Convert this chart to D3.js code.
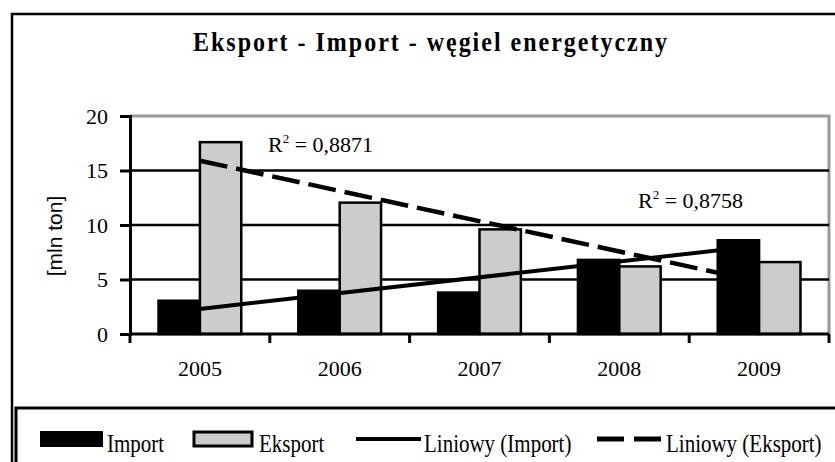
<!DOCTYPE html>
<html>
<head>
<meta charset="utf-8">
<script src="https://cdn.jsdelivr.net/npm/d3@7"></script>
<style>
  body { margin: 0; background: white; }
</style>
</head>
<body>
<script>
const FONT_SERIF = '"Liberation Serif", "Times New Roman", serif'
const FONT_SANS = '"Liberation Sans", Arial, sans-serif'
const GRAY_BAR = '#cccccc'
const GRAY_BORDER = '#999999'

// data
const years = ['2005', '2006', '2007', '2008', '2009']
const importVals = [3.05, 3.97, 3.8, 6.8, 8.6]
const exportVals = [17.6, 12.05, 9.6, 6.2, 6.6]
const yTicks = [0, 5, 10, 15, 20]
// trend lines (first and last category)
const importTrend = [2.3, 8.1]
const exportTrend = [15.9, 4.8]
const r2Labels = ['0,8871', '0,8758']

const width = 835, height = 462

const svg = d3.select('body').append('svg')
    .attr('width', width).attr('height', height)

// outer frame
svg.append('rect').attr('x', 12).attr('y', 14).attr('width', 900).attr('height', 600)
    .attr('fill', 'white').attr('stroke', 'black').attr('stroke-width', 2.5)

//Titre (text in the original looks stretched vertically)
svg.append('text').text('Eksport - Import - węgiel energetyczny')
    .attr('transform', 'translate(430,51) scale(1,1.18)').attr('text-anchor', 'middle')
    .attr('font-family', FONT_SERIF).attr('font-weight', 'bold').attr('font-size', 24)
    .attr('textLength', 474).attr('lengthAdjust', 'spacing')

//scales
const plot = { left: 130, right: 829, top: 116, bottom: 334 }
const x = d3.scaleBand().domain(years).range([plot.left, plot.right]).padding(0)
const xSub = d3.scaleBand().domain(['import', 'export']).range([0, x.bandwidth()])
    .paddingInner(0).paddingOuter(0.69)
const y = d3.scaleLinear().domain([0, 20]).range([plot.bottom, plot.top])

// plot border (top + right, gray)
svg.append('path')
    .attr('d', `M${plot.left},${y(20)}H${plot.right}V${plot.bottom}`)
    .attr('fill', 'none').attr('stroke', GRAY_BORDER).attr('stroke-width', 3)

// gridlines
svg.append('g').selectAll('line').data(yTicks.filter(d => d > 0 && d < 20)).join('line')
    .attr('x1', plot.left).attr('x2', plot.right)
    .attr('y1', d => y(d)).attr('y2', d => y(d))
    .attr('stroke', 'black').attr('stroke-width', 2.5)

// bars
const groups = svg.append('g').selectAll('g').data(years).join('g')
    .attr('transform', d => `translate(${x(d)},0)`)
groups.append('rect')
    .attr('x', xSub('import')).attr('width', xSub.bandwidth())
    .attr('y', (d, i) => y(importVals[i])).attr('height', (d, i) => y(0) - y(importVals[i]))
    .attr('fill', 'black').attr('stroke', 'black').attr('stroke-width', 2.5)
groups.append('rect')
    .attr('x', xSub('export')).attr('width', xSub.bandwidth())
    .attr('y', (d, i) => y(exportVals[i])).attr('height', (d, i) => y(0) - y(exportVals[i]))
    .attr('fill', GRAY_BAR).attr('stroke', 'black').attr('stroke-width', 2.5)

// trend lines
const cx = d => x(d) + x.bandwidth() / 2
const ends = [years[0], years[years.length - 1]]
const line = d3.line().x(d => cx(d[0])).y(d => y(d[1]))
svg.append('path').datum(ends.map((d, i) => [d, importTrend[i]]))
    .attr('d', line).attr('fill', 'none').attr('stroke', 'black').attr('stroke-width', 4)
svg.append('path').datum(ends.map((d, i) => [d, exportTrend[i]]))
    .attr('d', line).attr('fill', 'none').attr('stroke', 'black').attr('stroke-width', 4.5)
    .attr('stroke-dasharray', '28 9')

// y axis
const yAxis = svg.append('g').attr('transform', `translate(${plot.left},0)`)
    .call(d3.axisLeft(y).tickValues(yTicks).tickSize(10).tickPadding(12).tickFormat(d3.format('d')))
yAxis.select('.domain').attr('stroke-width', 3)
yAxis.selectAll('.tick line').attr('stroke-width', 3)
yAxis.selectAll('text').attr('font-family', FONT_SERIF).attr('font-size', 22).attr('fill', 'black')

// x axis
const xAxis = svg.append('g').attr('transform', `translate(0,${plot.bottom})`)
    .call(d3.axisBottom(x).tickSize(0).tickPadding(26))
xAxis.select('.domain').attr('stroke-width', 3).attr('d', `M${plot.left},0H${plot.right}`)
xAxis.selectAll('text').attr('font-family', FONT_SERIF).attr('font-size', 22).attr('fill', 'black')
svg.append('g').selectAll('line').data(years.slice(1).concat(['end'])).join('line')
    .attr('x1', d => d === 'end' ? plot.right : x(d)).attr('x2', d => d === 'end' ? plot.right : x(d))
    .attr('y1', plot.bottom).attr('y2', plot.bottom + 9)
    .attr('stroke', 'black').attr('stroke-width', 3)
svg.append('line').attr('x1', plot.left).attr('x2', plot.left)
    .attr('y1', plot.bottom).attr('y2', plot.bottom + 9)
    .attr('stroke', 'black').attr('stroke-width', 3)

// axis title
svg.append('text').text('[mln ton]')
    .attr('transform', 'translate(62,236) rotate(-90)').attr('text-anchor', 'middle')
    .attr('font-family', FONT_SANS).attr('font-size', 21)

// R² labels
const r2Pos = [[268, 152], [638, 208]]
r2Labels.forEach((v, i) => {
    const t = svg.append('text').attr('x', r2Pos[i][0]).attr('y', r2Pos[i][1])
        .attr('font-family', FONT_SERIF).attr('font-size', 22)
    t.append('tspan').text('R')
    t.append('tspan').text('2').attr('font-size', 13).attr('dy', -9)
    t.append('tspan').text(' = ' + v).attr('dy', 9)
})

// legend box
svg.append('rect').attr('x', 16).attr('y', 408).attr('width', 900).attr('height', 100)
    .attr('fill', 'white').attr('stroke', 'black').attr('stroke-width', 3)
const lg = svg.append('g').attr('font-family', FONT_SERIF).attr('font-size', 21)
const legendText = (s, x0) => lg.append('text').text(s)
    .attr('transform', `translate(${x0},452) scale(1,1.15)`)
lg.append('rect').attr('x', 41).attr('y', 432).attr('width', 61).attr('height', 14)
    .attr('fill', 'black').attr('stroke', 'black').attr('stroke-width', 2)
legendText('Import', 107)
lg.append('rect').attr('x', 194).attr('y', 432).attr('width', 58).attr('height', 14)
    .attr('fill', GRAY_BAR).attr('stroke', 'black').attr('stroke-width', 3)
legendText('Eksport', 259)
lg.append('line').attr('x1', 356).attr('x2', 421).attr('y1', 439).attr('y2', 439)
    .attr('stroke', 'black').attr('stroke-width', 4)
legendText('Liniowy (Import)', 424)
lg.append('line').attr('x1', 597).attr('x2', 661).attr('y1', 439).attr('y2', 439)
    .attr('stroke', 'black').attr('stroke-width', 5).attr('stroke-dasharray', '27 10')
legendText('Liniowy (Eksport)', 666)
</script>
</body>
</html>
